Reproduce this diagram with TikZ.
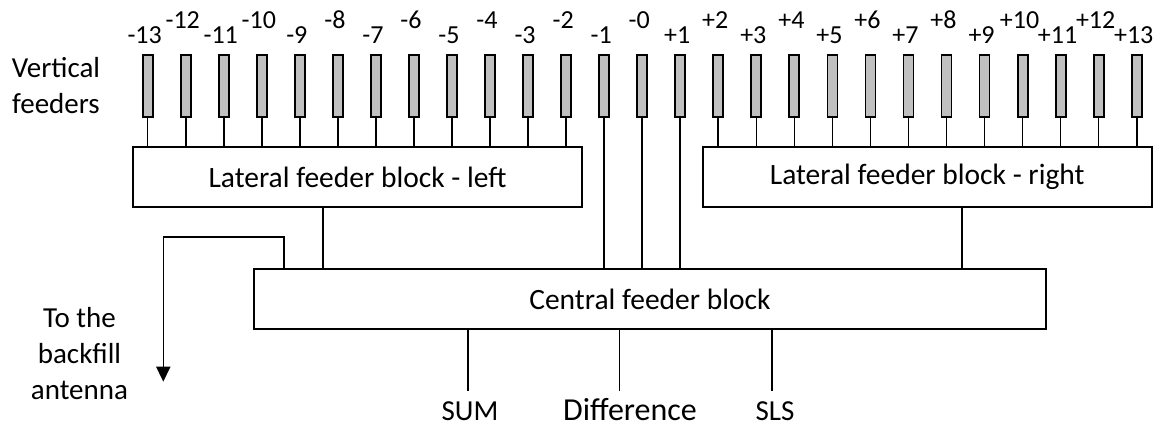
\documentclass[tikz,border=0pt]{standalone}
\usepackage{fontspec}
\setmainfont{Carlito}
\usetikzlibrary{arrows.meta}
\definecolor{feedgray}{RGB}{192,192,192}
\begin{document}
\begin{tikzpicture}[x=1pt,y=-1pt,
  feeder/.style={draw, fill=feedgray, line width=1.8pt, minimum width=10pt,
    minimum height=62pt, inner sep=0pt},
  block/.style={draw, line width=2pt, inner sep=0pt,
    font=\fontsize{29.5}{35}\selectfont},
  wire/.style={line width=1.6pt},
  lbl/.style={font=\fontsize{26}{30}\selectfont, anchor=base, inner sep=0pt},
  txt/.style={font=\fontsize{29}{36}\selectfont, align=center, anchor=base,
    inner sep=0pt},
  outlbl/.style={font=\fontsize{29}{34}\selectfont, anchor=base, inner sep=0pt}]
\useasboundingbox (0,0) rectangle (1157,426);

% vertical feeders with their index labels (even ones raised)
\foreach \i in {-13,...,13} {
  \pgfmathsetmacro\xx{642.2+38.04*\i}
  \node[feeder] (f\i) at (\xx,86) {};
  \ifodd\i \def\ly{43}\else \def\ly{28}\fi
  \ifnum\i<0 \def\lt{\i}\else\ifnum\i=0 \def\lt{-0}\else \def\lt{+\i}\fi\fi
  \node[lbl] (l\i) at ([xshift=-3pt]\xx,\ly) {\lt};
}

% the base anchor of a multi-line node sits on its last line
\node[txt] (vf) at (56,113) {Vertical\\feeders};

% feeder blocks
\node[block, minimum width=449pt, minimum height=60pt] (L) at (357.5,177)
  {Lateral feeder block - left};
\node[block, minimum width=449pt, minimum height=60pt] (R) at (927.2,177)
  {Lateral feeder block - right};
\node[block, minimum width=791.7pt, minimum height=60.5pt] (C) at (649.9,299)
  {Central feeder block};

% feeder stems
\foreach \i in {-13,...,-2} \draw[wire] (f\i.south) -- (f\i.south |- L.north);
\foreach \i in {2,...,13} \draw[wire] (f\i.south) -- (f\i.south |- R.north);
\foreach \i in {-1,0,1} \draw[wire] (f\i.south) -- (f\i.south |- C.north);

% lateral blocks into the central block
\draw[wire] ([xshift=-34.8pt]L.south) -- ([xshift=-34.8pt]L.south |- C.north);
\draw[wire] ([xshift=34.8pt]R.south) -- ([xshift=34.8pt]R.south |- C.north);

% backfill output
\coordinate (bf) at (163.3,381.7);
\draw[wire, -{Triangle[width=14pt,length=15pt]}]
  ([xshift=31pt]C.north west) -- ++(0,-30.7) -| (bf);
\node[txt] (bft) at (79.5,399) {To the\\backfill\\antenna};

% outputs of the central block
\coordinate (sum) at (467.7,390.7);
\coordinate (dif) at (619.3,390.7);
\coordinate (sls) at (771.7,390.7);
\draw[wire] (sum |- C.south) -- (sum);
\draw[wire] (dif |- C.south) -- (dif);
\draw[wire] (sls |- C.south) -- (sls);
\node[outlbl] (sumt) at (470,420) {SUM};
\node[outlbl, font=\fontsize{32}{36}\selectfont] (dift) at (630,420) {Difference};
\node[outlbl] (slst) at (775,420) {SLS};
\end{tikzpicture}
\end{document}
